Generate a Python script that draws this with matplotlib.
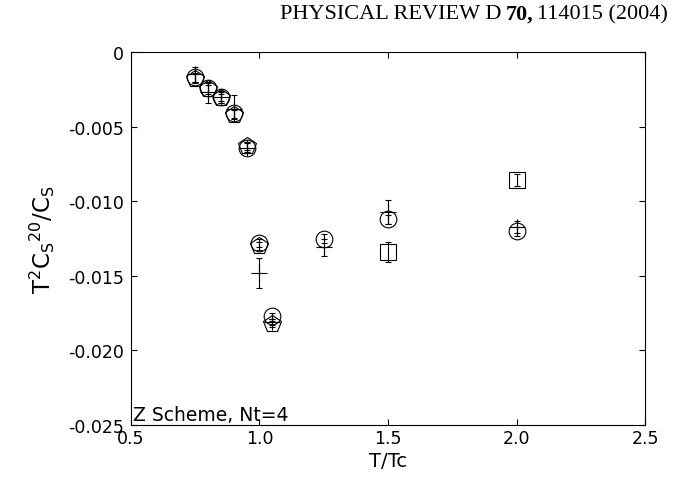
import matplotlib
matplotlib.use('Agg')
import matplotlib.pyplot as plt

plt.rcParams['font.family'] = ['DejaVu Sans']
plt.rcParams['mathtext.default'] = 'regular'

# circles
t_circle = [0.75, 0.80, 0.85, 0.90, 0.95, 1.00, 1.05, 1.25, 1.50, 2.00]
c_circle = [-0.0017, -0.0024, -0.0030, -0.0041, -0.0064, -0.0128, -0.0177, -0.0125, -0.0112, -0.0120]
e_circle = [0.0003, 0.0003, 0.0003, 0.0003, 0.0003, 0.0003, 0.0002, 0.0003, 0.0003, 0.0003]

# pentagons
t_pent = [0.75, 0.80, 0.85, 0.90, 0.95, 1.00, 1.05]
c_pent = [-0.0018, -0.0025, -0.0031, -0.0042, -0.0063, -0.0130, -0.0182]
e_pent = [0.0003, 0.0003, 0.0003, 0.0003, 0.0003, 0.0003, 0.0002]

# plus signs
t_plus = [0.75, 0.80, 0.85, 0.90, 0.95, 1.00, 1.05, 1.25, 1.50, 2.00]
c_plus = [-0.0015, -0.0027, -0.0030, -0.0038, -0.0064, -0.0148, -0.0181, -0.0131, -0.0107, -0.0117]
e_plus = [0.0005, 0.0007, 0.0004, 0.0009, 0.0004, 0.0010, 0.0002, 0.0006, 0.0008, 0.0004]

# squares
t_sq = [1.50, 2.00]
c_sq = [-0.0134, -0.0086]
e_sq = [0.0007, 0.0004]

xticks = [0.5, 1.0, 1.5, 2.0, 2.5]
xticklabels = ['0.5', '1.0', '1.5', '2.0', '2.5']
yticks = [0, -0.005, -0.010, -0.015, -0.020, -0.025]
yticklabels = ['0', '-0.005', '-0.010', '-0.015', '-0.020', '-0.025']

fig = plt.figure(figsize=(6.79, 4.85), dpi=100)
ax = fig.add_axes([0.1929, 0.1216, 0.7571, 0.7691])

common = dict(mfc='none', mec='k', ecolor='k', mew=0.8, elinewidth=0.8, capsize=2, capthick=0.8, ls='none')
ax.errorbar(t_circle, c_circle, yerr=e_circle, fmt='o', ms=12, **common)
ax.errorbar(t_pent, c_pent, yerr=e_pent, fmt='p', ms=13, **common)
ax.errorbar(t_plus, c_plus, yerr=e_plus, fmt='+', ms=12, **common)
ax.errorbar(t_sq, c_sq, yerr=e_sq, fmt='s', ms=11.5, **common)

ax.set_xlim(0.5, 2.5)
ax.set_ylim(-0.025, 0)
ax.set_xticks(xticks)
ax.set_xticklabels(xticklabels)
ax.set_yticks(yticks)
ax.set_yticklabels(yticklabels)
ax.tick_params(direction='in', length=4.5, width=0.8, top=True, right=True, labelsize=12.5)
ax.tick_params(axis='x', pad=3)
ax.tick_params(axis='y', pad=5)
for s in ax.spines.values():
    s.set_linewidth(0.8)

ax.set_xlabel('T/Tc', fontsize=14, labelpad=3)
ax.set_ylabel('T$^2$C$_S$$^{20}$/C$_S$', fontsize=16.5, labelpad=8)
ax.text(0.004, 0.004, 'Z Scheme, Nt=4', transform=ax.transAxes, fontsize=13.5, ha='left', va='bottom')

# journal header, pieced together right to left
fig.canvas.draw()
r = fig.canvas.get_renderer()
W = fig.bbox.width
hy = 0.970
serif = ['Liberation Serif', 'DejaVu Serif']
t3 = fig.text(668 / W, hy, '114015 (2004)', family=serif, fontsize=16, ha='right', va='center')
b3 = t3.get_window_extent(r)
t2 = fig.text((b3.x0 - 4) / W, hy, '70,', family=serif, fontsize=16, weight='bold', ha='right', va='center')
b2 = t2.get_window_extent(r)
fig.text((b2.x0 - 4) / W, hy, 'PHYSICAL REVIEW D', family=serif, fontsize=16, ha='right', va='center')

fig.savefig('out.png', dpi=100)
